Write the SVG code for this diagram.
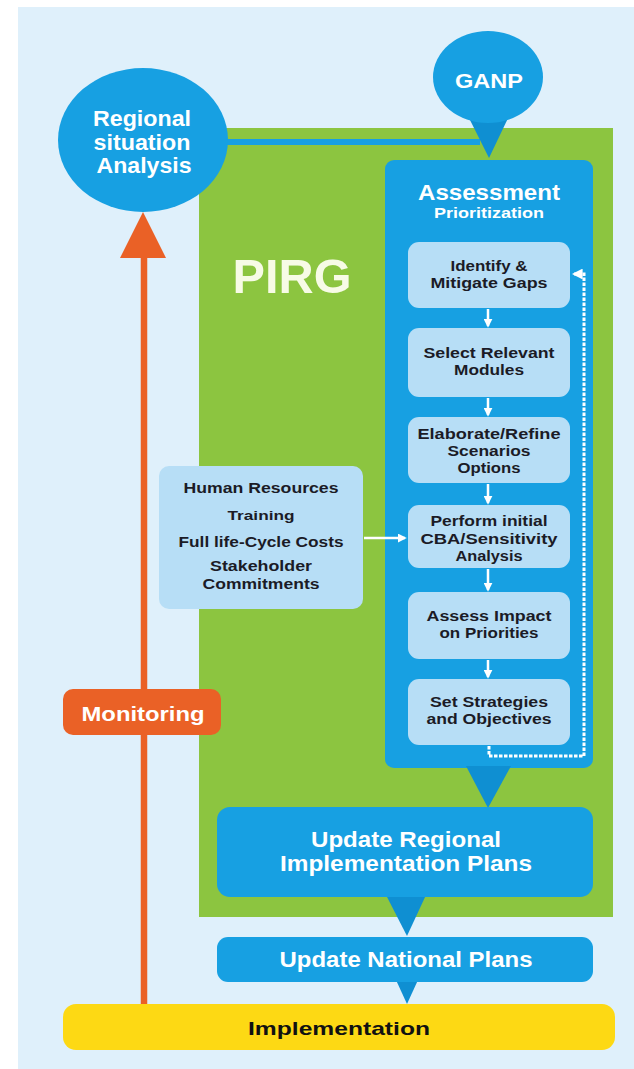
<svg xmlns="http://www.w3.org/2000/svg" width="634" height="1069" viewBox="0 0 634 1069">
<defs>
<style>
text{font-family:"Liberation Sans",Arial,sans-serif;font-weight:bold;text-anchor:middle}
.w{fill:#ffffff}
.d{fill:#1b1b26}
.blue{fill:#17a0e2}
.lt{fill:#b7def6}
.ptr{fill:#0f8fd2}
.wa{stroke:#ffffff;stroke-width:2.5;fill:none}
</style>
<marker id="wh" viewBox="0 0 10 10" refX="8" refY="5" markerWidth="3.6" markerHeight="3.6" orient="auto-start-reverse">
<path d="M0,0 L10,5 L0,10 z" fill="#ffffff"/>
</marker>
</defs>
<rect x="0" y="0" width="634" height="1069" fill="#ffffff"/>
<rect x="18" y="7" width="616" height="1062" fill="#dff0fb"/>

<g id="pirg">
<rect x="199" y="128" width="414" height="789" fill="#8cc540"/>
<text x="292" y="293" font-size="48" fill="#f7fbe6" textLength="119" lengthAdjust="spacingAndGlyphs">PIRG</text>
</g>

<g id="assessment">
<rect x="385" y="160" width="208" height="608" rx="9" class="blue"/>
<text class="w" x="489" y="200" font-size="22" textLength="142" lengthAdjust="spacingAndGlyphs">Assessment</text>
<text class="w" x="489" y="218" font-size="15" textLength="110" lengthAdjust="spacingAndGlyphs">Prioritization</text>
</g>

<g id="identify">
<rect x="408" y="242" width="162" height="66" rx="11" class="lt"/>
<text class="d" x="489" y="271" font-size="14" textLength="77" lengthAdjust="spacingAndGlyphs">Identify &amp;</text>
<text class="d" x="489" y="288" font-size="14" textLength="117" lengthAdjust="spacingAndGlyphs">Mitigate Gaps</text>
</g>

<g id="select">
<rect x="408" y="328" width="162" height="69" rx="11" class="lt"/>
<text class="d" x="489" y="358" font-size="14" textLength="131" lengthAdjust="spacingAndGlyphs">Select Relevant</text>
<text class="d" x="489" y="375" font-size="14" textLength="70" lengthAdjust="spacingAndGlyphs">Modules</text>
</g>

<g id="elaborate">
<rect x="408" y="417" width="162" height="66" rx="11" class="lt"/>
<text class="d" x="489" y="439" font-size="14" textLength="143" lengthAdjust="spacingAndGlyphs">Elaborate/Refine</text>
<text class="d" x="489" y="456" font-size="14" textLength="83" lengthAdjust="spacingAndGlyphs">Scenarios</text>
<text class="d" x="489" y="473" font-size="14" textLength="63" lengthAdjust="spacingAndGlyphs">Options</text>
</g>

<g id="perform">
<rect x="408" y="505" width="162" height="63" rx="11" class="lt"/>
<text class="d" x="489" y="526" font-size="14" textLength="117" lengthAdjust="spacingAndGlyphs">Perform initial</text>
<text class="d" x="489" y="544" font-size="14" textLength="137" lengthAdjust="spacingAndGlyphs">CBA/Sensitivity</text>
<text class="d" x="489" y="561" font-size="14" textLength="67" lengthAdjust="spacingAndGlyphs">Analysis</text>
</g>

<g id="assess-impact">
<rect x="408" y="592" width="162" height="67" rx="11" class="lt"/>
<text class="d" x="489" y="621" font-size="14" textLength="125" lengthAdjust="spacingAndGlyphs">Assess Impact</text>
<text class="d" x="489" y="638" font-size="14" textLength="99" lengthAdjust="spacingAndGlyphs">on Priorities</text>
</g>

<g id="set-strategies">
<rect x="408" y="679" width="162" height="66" rx="11" class="lt"/>
<text class="d" x="489" y="707" font-size="14" textLength="118" lengthAdjust="spacingAndGlyphs">Set Strategies</text>
<text class="d" x="489" y="724" font-size="14" textLength="125" lengthAdjust="spacingAndGlyphs">and Objectives</text>
</g>

<g id="human-resources">
<rect x="159" y="466" width="204" height="143" rx="10" class="lt"/>
<text class="d" x="261" y="493" font-size="15" textLength="155" lengthAdjust="spacingAndGlyphs">Human Resources</text>
<text class="d" x="261" y="520" font-size="13" textLength="67" lengthAdjust="spacingAndGlyphs">Training</text>
<text class="d" x="261" y="547" font-size="15" textLength="165" lengthAdjust="spacingAndGlyphs">Full life-Cycle Costs</text>
<text class="d" x="261" y="571" font-size="14" textLength="102" lengthAdjust="spacingAndGlyphs">Stakeholder</text>
<text class="d" x="261" y="589" font-size="14" textLength="117" lengthAdjust="spacingAndGlyphs">Commitments</text>
</g>

<g id="connectors">
<line x1="144" y1="1004" x2="144" y2="250" stroke="#ea6126" stroke-width="6.5"/>
<polygon points="120,258 166,258 143,212" fill="#ea6126"/>
<line x1="222" y1="142" x2="480" y2="142" stroke="#17a0e2" stroke-width="6"/>
<polygon class="ptr" points="466,112 511,112 489,158"/>
<polygon class="ptr" points="466,766 511,766 488,808"/>
<polygon class="ptr" points="386,895 426,895 407,936"/>
<polygon class="ptr" points="396,980 418,980 407,1004"/>
<line class="wa" x1="488" y1="309" x2="488" y2="326" marker-end="url(#wh)"/>
<line class="wa" x1="488" y1="398" x2="488" y2="415" marker-end="url(#wh)"/>
<line class="wa" x1="488" y1="484" x2="488" y2="503" marker-end="url(#wh)"/>
<line class="wa" x1="488" y1="569" x2="488" y2="590" marker-end="url(#wh)"/>
<line class="wa" x1="488" y1="660" x2="488" y2="677" marker-end="url(#wh)"/>
<line class="wa" x1="364" y1="538" x2="405" y2="538" marker-end="url(#wh)"/>
<path d="M489,746 V756 H584 V274 H574" stroke="#ffffff" stroke-width="3" stroke-dasharray="3.5 1.5" fill="none" marker-end="url(#wh)"/>
</g>

<g id="regional-situation-analysis">
<ellipse cx="143" cy="140" rx="85" ry="72" class="blue"/>
<text class="w" x="142" y="126" font-size="22" textLength="98" lengthAdjust="spacingAndGlyphs">Regional</text>
<text class="w" x="142" y="150" font-size="22" textLength="97" lengthAdjust="spacingAndGlyphs">situation</text>
<text class="w" x="144" y="173" font-size="22" textLength="95" lengthAdjust="spacingAndGlyphs">Analysis</text>
</g>

<g id="ganp">
<ellipse cx="488" cy="77" rx="55" ry="46" class="blue"/>
<text class="w" x="489" y="88" font-size="20" textLength="68" lengthAdjust="spacingAndGlyphs">GANP</text>
</g>

<g id="monitoring">
<rect x="63" y="689" width="158" height="46" rx="10" fill="#ea6126"/>
<text class="w" x="143" y="721" font-size="20" textLength="123" lengthAdjust="spacingAndGlyphs">Monitoring</text>
</g>

<g id="update-regional">
<rect x="217" y="807" width="376" height="90" rx="13" class="blue"/>
<text class="w" x="406" y="847" font-size="22" textLength="190" lengthAdjust="spacingAndGlyphs">Update Regional</text>
<text class="w" x="406" y="871" font-size="22" textLength="252" lengthAdjust="spacingAndGlyphs">Implementation Plans</text>
</g>

<g id="update-national">
<rect x="217" y="937" width="376" height="45" rx="11" class="blue"/>
<text class="w" x="406" y="967" font-size="22" textLength="253" lengthAdjust="spacingAndGlyphs">Update National Plans</text>
</g>

<g id="implementation">
<rect x="63" y="1004" width="552" height="46" rx="13" fill="#fdd914"/>
<text x="339" y="1035" font-size="19" fill="#111111" textLength="182" lengthAdjust="spacingAndGlyphs">Implementation</text>
</g>
</svg>
